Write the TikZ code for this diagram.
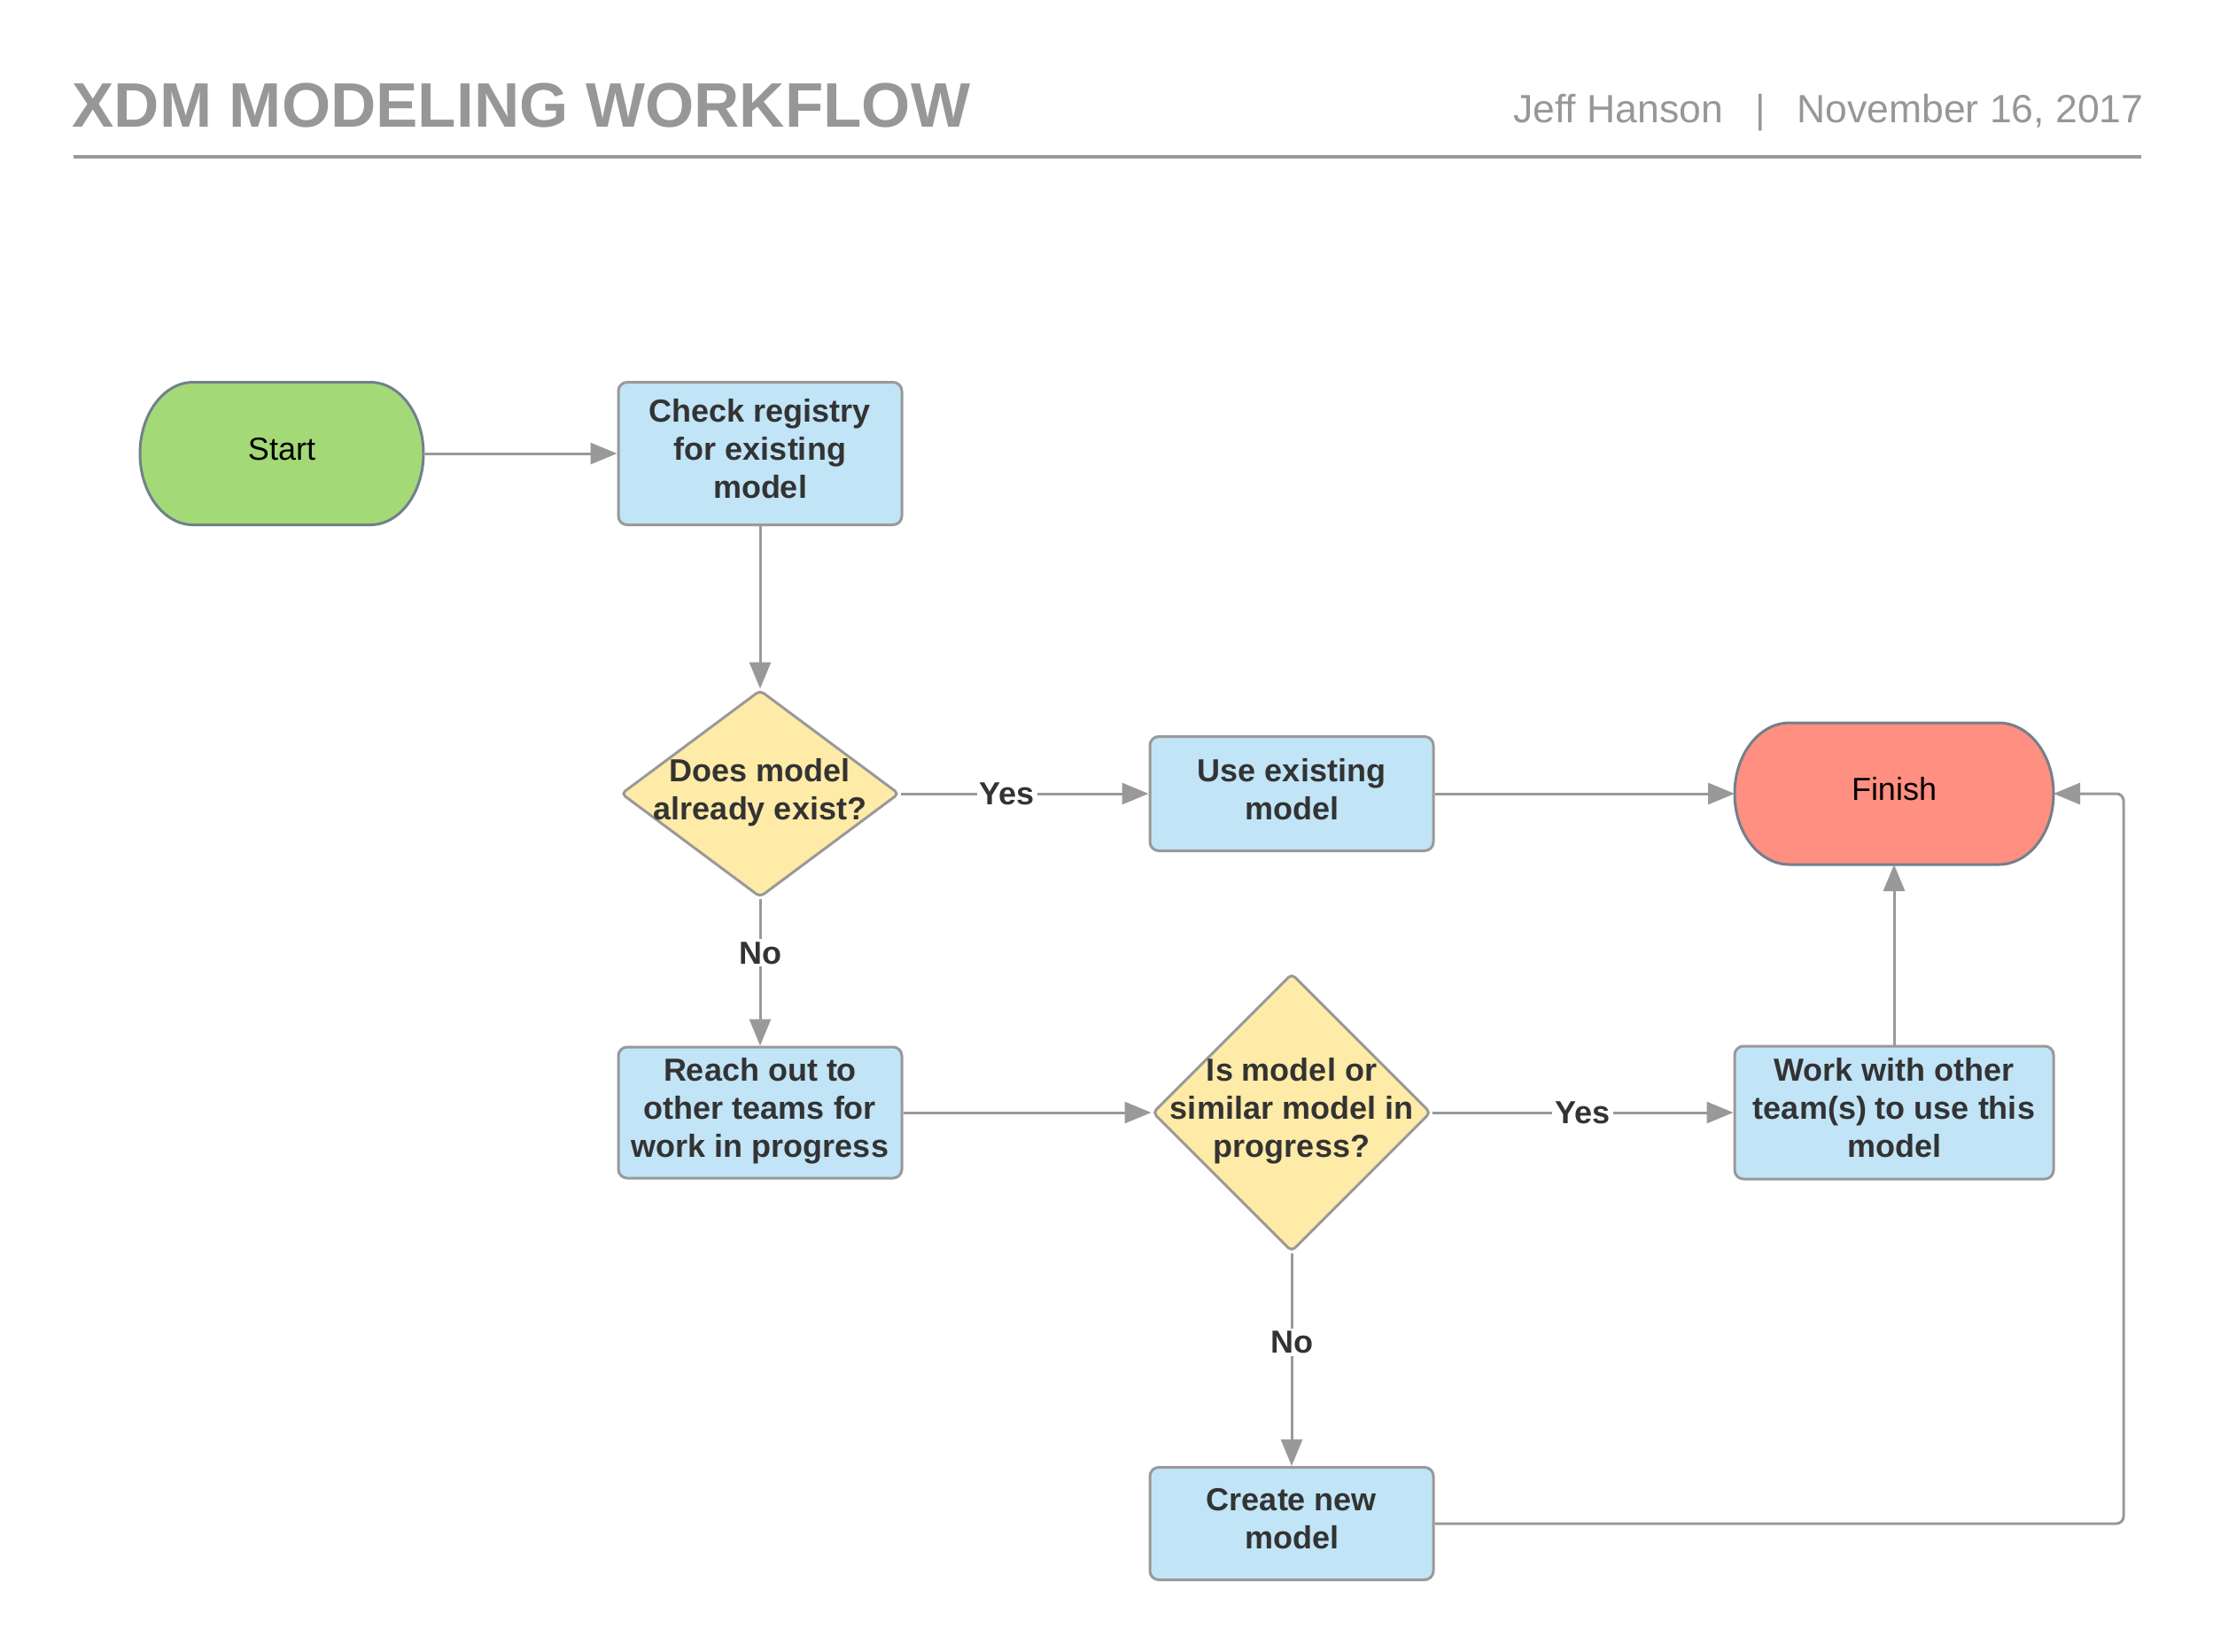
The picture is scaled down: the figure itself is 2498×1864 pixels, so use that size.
\documentclass[tikz,border=0pt]{standalone}
\usepackage{fontspec}
\setmainfont{Liberation Sans}
\usetikzlibrary{shapes.geometric,arrows.meta,positioning,backgrounds}

\definecolor{linegray}{HTML}{999999}
\definecolor{titlegray}{HTML}{979797}
\definecolor{termline}{HTML}{737F8C}
\definecolor{boxblue}{HTML}{C1E4F7}
\definecolor{diayellow}{HTML}{FFEBA8}
\definecolor{startgreen}{HTML}{A3D977}
\definecolor{finishred}{HTML}{FF8F80}
\definecolor{textdark}{HTML}{333333}

\tikzset{
  boxfont/.style={font=\bfseries\fontsize{36}{43}\selectfont},
  process/.style={rectangle, rounded corners=10pt, draw=linegray, line width=3pt, fill=boxblue,
    minimum width=320pt, text=textdark, boxfont, align=center, text depth=10.5pt},
  decision/.style={diamond, rounded corners=5pt, draw=linegray, line width=3pt, fill=diayellow, inner sep=-200pt,
    minimum width=314pt, text=textdark, boxfont, align=center, text depth=10.5pt},
  terminal/.style={rectangle, outer sep=0pt, text=black, font=\fontsize{36}{43}\selectfont, text depth=10.5pt},
  flow/.style={draw=linegray, line width=3pt, ->},
  answer/.style={fill=white, text=textdark, boxfont, inner sep=3pt},
}

\begin{document}
\begin{tikzpicture}[x=1pt,y=1pt,>={Triangle[length=30pt,width=24pt]}]
\useasboundingbox (0,0) rectangle (2498,-1864);

% header
\node[anchor=base west, text=titlegray, font=\bfseries\fontsize{71}{80}\selectfont] (title) at (78,-143) {XDM MODELING WORKFLOW};
\node[anchor=base east, text=titlegray, font=\fontsize{44.5}{50}\selectfont] (author) at (2423,-138) {Jeff Hanson\hspace{36pt}|\hspace{36pt}November 16, 2017};
\draw[linegray, line width=4pt] (83,-177) -- (2417,-177);

% nodes
\node[terminal, minimum width=320pt, minimum height=161pt] (start) at (318,-512) {Start};
\node[process, minimum height=161pt] (check) at (858,-512) {Check registry\\for existing\\model};
\node[decision, minimum height=234pt] (exist) at (858,-896) {Does model\\already exist?};
\node[process, minimum height=129pt] (use) at (1458,-896) {Use existing\\model};
\node[terminal, minimum width=360pt, minimum height=160pt] (finish) at (2138,-896) {Finish};
\node[process, minimum height=148pt] (reach) at (858,-1256) {Reach out to\\other teams for\\work in progress};
\node[decision, minimum height=314pt] (inprog) at (1458,-1256) {Is model or\\similar model in\\progress?};
\node[process, minimum width=360pt, minimum height=150pt] (work) at (2138,-1256) {Work with other\\team(s) to use this\\model};
\node[process, minimum height=127pt] (create) at (1458,-1720) {Create new\\model};

% start / finish capsules
\begin{scope}[on background layer]
\filldraw[draw=termline, line width=3pt, fill=startgreen]
  ([xshift=60pt]start.north west) -- ([xshift=-60pt]start.north east)
  arc[start angle=90, end angle=-90, x radius=60, y radius=80.5]
  -- ([xshift=60pt]start.south west)
  arc[start angle=270, end angle=90, x radius=60, y radius=80.5] -- cycle;
\filldraw[draw=termline, line width=3pt, fill=finishred]
  ([xshift=62pt]finish.north west) -- ([xshift=-62pt]finish.north east)
  arc[start angle=90, end angle=-90, x radius=62, y radius=80]
  -- ([xshift=62pt]finish.south west)
  arc[start angle=270, end angle=90, x radius=62, y radius=80] -- cycle;
\end{scope}

% connectors
\draw[flow] (start) -- (check);
\draw[flow] (check) -- (exist);
\draw[flow] (exist.east) -- node[answer, pos=.43] {Yes} (use.west);
\draw[flow] (exist.south) -- node[answer, pos=.37] {No} (reach.north);
\draw[flow] (use.east) -- (finish.west);
\draw[flow] (reach.east) -- (inprog.west);
\draw[flow] (inprog.east) -- node[answer, pos=.5] {Yes} (work.west);
\draw[flow] (inprog.south) -- node[answer, pos=.42] {No} (create.north);
\draw[flow] (work.north) -- (finish.south);
\coordinate (loopturn) at (2397,-1720);
\draw[flow, rounded corners=8pt] (create.east) -- (loopturn) |- (finish.east);
\end{tikzpicture}
\end{document}
